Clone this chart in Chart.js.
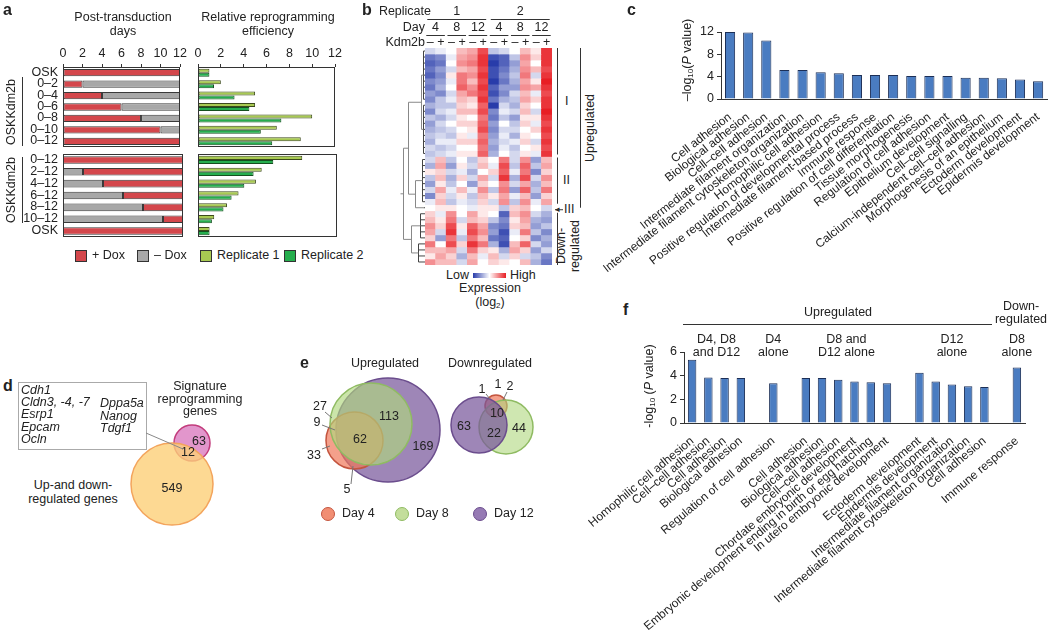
<!DOCTYPE html>
<html>
<head>
<meta charset="utf-8">
<script src="https://cdn.jsdelivr.net/npm/chart.js@4.4.0/dist/chart.umd.min.js"></script>
<style>
body { margin: 0; background: #fff; }
#fig { position: relative; width: 1050px; height: 636px; overflow: hidden; font-family: "Liberation Sans", Arial, sans-serif; color: #222; }
#fig canvas { position: absolute; }
.t { position: absolute; white-space: nowrap; font-size: 12.5px; line-height: 1.1; }
.c { transform: translate(-50%, -50%); text-align: center; }
.l { transform: translate(0, -50%); }
.r { transform: translate(-100%, -50%); text-align: right; }
.v { transform: translate(-50%, -50%) rotate(-90deg); text-align: center; }
.p { font-weight: bold; font-size: 16px; }
.i { font-style: italic; }
sub { font-size: 8px; vertical-align: -2px; }
</style>
</head>
<body>
<div id="fig"></div>
<script>
// ---- panel a ----
const rowsTop = ['OSK', '0–2', '0–4', '0–6', '0–8', '0–10', '0–12'];
const plusDoxTop = [12, 2, 4, 6, 8, 10, 12];
const minusDoxTop = [0, 10, 8, 6, 4, 2, 0];
const rowsBottom = ['0–12', '2–12', '4–12', '6–12', '8–12', '10–12', 'OSK'];
const minusDoxBottom = [0, 2, 4, 6, 8, 10, 0];
const plusDoxBottom = [12, 10, 8, 6, 4, 2, 12];
const rep1Top = [1.0, 2.0, 5.0, 5.0, 10.0, 6.9, 9.0];
const rep2Top = [1.0, 1.4, 3.2, 4.5, 7.3, 5.5, 6.5];
const rep1Bottom = [9.0, 5.5, 5.0, 3.5, 2.5, 1.4, 1.0];
const rep2Bottom = [6.5, 4.8, 4.0, 2.9, 2.2, 1.2, 1.0];
const dayTicks = [0, 2, 4, 6, 8, 10, 12];

// ---- panel b ----
const replicates = ['1', '2'];
const days = ['4', '8', '12'];
const kdm2b = ['–', '+'];
const heatCols = ['R1 D4 -', 'R1 D4 +', 'R1 D8 -', 'R1 D8 +', 'R1 D12 -', 'R1 D12 +',
                  'R2 D4 -', 'R2 D4 +', 'R2 D8 -', 'R2 D8 +', 'R2 D12 -', 'R2 D12 +'];
const heatRows = [
  [-0.2, -0.1, 0.0, 0.3, 0.4, 0.8, -0.3, -0.2, 0.0, 0.3, 0.1, 0.9],
  [-0.7, -0.6, -0.1, 0.4, 0.5, 0.9, -0.9, -0.8, -0.3, 0.5, 0.2, 0.9],
  [-0.8, -0.7, 0.0, 0.5, 0.6, 0.9, -1.0, -0.8, -0.5, 0.4, 0.0, 0.9],
  [-0.7, -0.5, -0.2, 0.3, 0.4, 0.8, -0.9, -0.7, -0.4, 0.5, 0.3, 0.8],
  [-0.8, -0.6, 0.1, 0.6, 0.5, 0.9, -0.9, -0.6, -0.3, 0.6, -0.2, 0.9],
  [-0.6, -0.5, -0.1, 0.6, 0.3, 0.8, -1.0, -0.7, -0.4, 0.4, 0.1, 1.0],
  [-0.7, -0.4, 0.0, 0.7, 0.5, 0.9, -0.8, -0.5, -0.5, 0.5, 0.4, 0.9],
  [-0.5, -0.6, -0.2, 0.4, 0.6, 0.8, -0.9, -0.6, -0.2, 0.3, -0.1, 0.8],
  [-0.6, -0.3, -0.1, 0.3, 0.2, 0.9, -0.7, -0.4, -0.3, 0.4, 0.2, 0.9],
  [-0.4, -0.3, -0.3, 0.2, 0.1, 0.7, -1.0, -0.2, -0.4, 0.2, 0.0, 0.9],
  [-0.6, -0.2, -0.1, 0.3, 0.3, 0.8, -0.6, -0.1, -0.2, 0.3, -0.2, 1.0],
  [-0.3, -0.4, -0.2, 0.1, 0.0, 0.6, -0.7, -0.3, -0.5, 0.1, 0.1, 0.9],
  [-0.5, -0.2, 0.0, 0.2, 0.2, 0.7, -0.5, 0.0, -0.3, 0.2, -0.1, 0.8],
  [-0.4, -0.3, -0.2, 0.0, 0.1, 0.8, -0.6, -0.2, -0.2, 0.0, 0.2, 0.9],
  [-0.3, -0.2, -0.3, 0.1, -0.1, 0.6, -0.5, -0.1, -0.4, 0.1, 0.0, 0.8],
  [-0.4, -0.1, -0.1, 0.2, 0.2, 0.7, -0.4, -0.2, -0.1, 0.2, -0.2, 0.9],
  [-0.2, -0.3, -0.2, 0.0, 0.0, 0.6, -0.5, -0.1, -0.3, 0.0, 0.1, 0.8],
  [-0.3, -0.2, -0.1, 0.1, 0.1, 0.7, -0.4, 0.0, -0.2, 0.1, -0.1, 0.9],
  [-0.2, 0.3, -0.3, 0.0, -0.3, 0.2, 0.0, 0.6, -0.2, 0.5, -0.5, 0.3],
  [-0.4, 0.4, -0.5, 0.1, -0.2, 0.3, -0.1, 0.8, -0.3, 0.7, -0.3, 0.4],
  [0.1, 0.2, -0.2, -0.1, -0.4, 0.0, 0.2, 0.7, -0.1, 0.6, -0.6, 0.2],
  [-0.3, 0.3, -0.4, 0.2, -0.2, 0.4, -0.2, 0.9, -0.4, 0.8, -0.2, 0.5],
  [-0.5, 0.1, -0.3, 0.0, -0.5, 0.2, 0.0, 0.5, -0.2, 0.4, -0.4, 0.3],
  [-0.2, 0.4, -0.1, 0.3, -0.1, 0.5, -0.3, 0.6, -0.5, 0.7, -0.3, 0.6],
  [-0.6, 0.2, -0.2, 0.1, -0.3, 0.3, 0.1, 0.4, -0.1, 0.3, -0.5, 0.2],
  [-0.1, 0.3, -0.3, -0.1, -0.2, 0.2, -0.2, 0.5, -0.3, 0.5, -0.1, 0.4],
  [0.0, 0.1, 0.1, 0.0, -0.1, 0.1, 0.1, -0.3, 0.2, 0.3, 0.0, -0.2],
  [0.2, -0.1, 0.5, 0.0, 0.4, 0.1, 0.0, -0.8, 0.3, 0.5, -0.2, -0.4],
  [0.3, 0.1, 0.6, -0.2, 0.3, 0.2, -0.3, -0.6, 0.1, 0.4, -0.4, -0.5],
  [0.5, 0.2, 0.8, 0.1, 0.7, 0.4, -0.6, -0.7, 0.2, 0.3, -0.5, -0.3],
  [0.4, -0.2, 0.9, -0.1, 0.8, 0.5, -0.5, -0.9, -0.1, 0.6, -0.3, -0.6],
  [0.2, -0.5, 0.6, -0.3, 0.6, 0.3, -0.7, -0.8, 0.0, 0.2, -0.6, -0.4],
  [0.6, 0.0, 0.8, 0.2, 0.9, 0.6, -0.4, -0.9, 0.3, 0.7, -0.2, -0.5],
  [0.3, 0.3, 0.4, -0.2, 0.6, 0.2, 0.1, -0.4, 0.4, 0.2, -0.5, -0.2],
  [0.1, 0.4, 0.2, -0.4, 0.3, -0.1, 0.3, -0.2, 0.2, -0.2, -0.3, -0.6],
  [0.5, 0.3, 0.3, -0.2, 0.4, 0.0, 0.2, 0.1, 0.0, 0.3, -0.4, -0.7]
];
// row ranges of the clusters
const clusterI = [0, 17], clusterII = [18, 25], clusterIII = [26, 26], clusterDown = [27, 35];

// ---- panel c ----
const termsC = ['Cell adhesion', 'Biological adhesion', 'Cell–cell adhesion', 'Intermediate filament organization',
  'Intermediate filament cytoskeleton organization', 'Homophilic cell adhesion',
  'Positive regulation of developmental process', 'Intermediate filament-based process', 'Immune response',
  'Positive regulation of cell differentiation', 'Tissue morphogenesis', 'Regulation of cell adhesion',
  'Epithelium development', 'Cell–cell signalling', 'Calcium-independent cell–cell adhesion',
  'Morphogenesis of an epithelium', 'Ectoderm development', 'Epidermis development'];
const pvalC = [12.0, 11.9, 10.5, 5.2, 5.2, 4.8, 4.6, 4.3, 4.3, 4.3, 4.1, 4.1, 4.1, 3.8, 3.8, 3.7, 3.5, 3.2];
const cTicks = [0, 2, 4, 6, 8, 10, 12];

// ---- panel d ----
const vennDCounts = ['549', '12', '63'];
// ---- panel e ----
const vennUpCounts = ['33', '9', '27', '5', '62', '113', '169'];
const vennDownCounts = ['63', '1', '1', '2', '10', '22', '44'];
const dayNames = ['Day 4', 'Day 8', 'Day 12'];

// ---- panel f ----
const termsF = ['Homophilic cell adhesion', 'Cell–cell adhesion', 'Cell adhesion', 'Biological adhesion', '',
  'Regulation of cell adhesion', '',
  'Cell adhesion', 'Biological adhesion', 'Cell–cell adhesion', 'Chordate embryonic development',
  'Embryonic development ending in birth or egg hatching', 'In utero embryonic development', '',
  'Ectoderm development', 'Epidermis development', 'Intermediate filament organization',
  'Intermediate filament cytoskeleton organization', 'Cell adhesion', '',
  'Immune response'];
const pvalF = [5.35, 3.85, 3.8, 3.8, null, 3.35, null, 3.8, 3.8, 3.65, 3.5, 3.45, 3.35, null,
  4.25, 3.5, 3.25, 3.1, 3.05, null, 4.7];
const fTicks = [0, 2, 4, 6];
const fGroups = ['D4, D8<br>and D12', 'D4<br>alone', 'D8 and<br>D12 alone', 'D12<br>alone', 'D8<br>alone'];
const fGroupSpan = [[0, 3], [5, 5], [7, 12], [14, 18], [20, 20]];

// ---- colours ----
const RED = '#d4474c', GREY = '#a8a8a8', LGREEN = '#a8ca52', GREEN = '#25ae4e';
const BLUE = '#4a7cc1', NAVY = '#1c2f57';

Chart.defaults.font.family = '"Liberation Sans", Arial, sans-serif';
Chart.defaults.font.size = 12;
Chart.defaults.color = '#222';
Chart.defaults.animation = false;
Chart.defaults.responsive = false;
Chart.defaults.maintainAspectRatio = false;
Chart.defaults.devicePixelRatio = 1;
Chart.defaults.events = [];
Chart.defaults.plugins.legend.display = false;
Chart.defaults.plugins.tooltip.enabled = false;

const framePlugin = {
  id: 'frame',
  defaults: { on: false },
  afterDatasetsDraw(chart, args, opts) {
    if (!opts.on) return;
    const a = chart.chartArea, ctx = chart.ctx;
    ctx.save();
    ctx.strokeStyle = '#333';
    ctx.lineWidth = 1;
    ctx.strokeRect(Math.round(a.left) + 0.5, Math.round(a.top) + 0.5, Math.round(a.width) - 1, Math.round(a.height) - 1);
    ctx.restore();
  }
};
Chart.register(framePlugin);

const fig = document.getElementById('fig');
const svg = document.createElementNS('http://www.w3.org/2000/svg', 'svg');
svg.setAttribute('width', 1050);
svg.setAttribute('height', 636);
svg.style.cssText = 'position:absolute;left:0;top:0;z-index:2;pointer-events:none';

function canvasAt(left, top, w, h) {
  const c = document.createElement('canvas');
  c.width = w; c.height = h;
  c.style.left = left + 'px'; c.style.top = top + 'px';
  c.style.width = w + 'px'; c.style.height = h + 'px';
  fig.appendChild(c);
  return c;
}

function txt(html, x, y, cls, style) {
  const d = document.createElement('div');
  d.className = 't ' + (cls || 'c');
  d.style.left = x + 'px';
  d.style.top = y + 'px';
  if (style) d.style.cssText += style;
  d.innerHTML = html;
  fig.appendChild(d);
  return d;
}

function line(x1, y1, x2, y2, color, w) {
  const l = document.createElementNS('http://www.w3.org/2000/svg', 'line');
  l.setAttribute('x1', x1); l.setAttribute('y1', y1);
  l.setAttribute('x2', x2); l.setAttribute('y2', y2);
  l.setAttribute('stroke', color || '#333');
  l.setAttribute('stroke-width', w || 1);
  svg.appendChild(l);
}

// ================= panel a =================
const topAxisFit = s => { s.height = s.options.display ? 31 : 0; };

function topAxis(show) {
  return {
    min: 0, max: 12, position: 'top', display: show,
    afterBuildTicks: s => { s.ticks = dayTicks.map(v => ({ value: v })); },
    ticks: { font: { size: 12.5 }, padding: 3 },
    grid: { drawOnChartArea: false, tickLength: 3, color: '#333' },
    border: { display: false },
    afterFit: topAxisFit
  };
}

function daysChart(left, top, h, labels, sets, show, pad) {
  const ch = new Chart(canvasAt(left, top, 190, h), {
    type: 'bar',
    data: {
      labels: labels,
      datasets: sets.map(s => ({
        data: s.data, backgroundColor: s.color, borderColor: '#3a3a3a',
        borderWidth: c => (c.raw ? 1 : 0), borderSkipped: false,
        barPercentage: 0.64, categoryPercentage: 1
      }))
    },
    options: {
      indexAxis: 'y',
      layout: { padding: pad },
      plugins: { frame: { on: true } },
      scales: {
        x: Object.assign(topAxis(show), { stacked: true }),
        y: { stacked: true, display: false }
      }
    }
  });
  // row labels placed from the category scale
  labels.forEach((lab, i) => txt(lab, left + ch.chartArea.left - 5, top + ch.scales.y.getPixelForValue(i), 'r'));
  return ch;
}

function effChart(left, top, h, labels, r1, r2, show, pad) {
  return new Chart(canvasAt(left, top, 155, h), {
    type: 'bar',
    data: {
      labels: labels,
      datasets: [
        { data: r1, backgroundColor: LGREEN, borderColor: '#3d4a1c', borderWidth: 1, borderSkipped: false, barPercentage: 1, categoryPercentage: 0.7 },
        { data: r2, backgroundColor: GREEN, borderColor: '#14501f', borderWidth: 1, borderSkipped: false, barPercentage: 1, categoryPercentage: 0.7 }
      ]
    },
    options: {
      indexAxis: 'y',
      layout: { padding: pad },
      plugins: { frame: { on: true } },
      scales: { x: topAxis(show), y: { display: false } }
    }
  });
}

daysChart(0, 36, 112, rowsTop, [{ data: plusDoxTop, color: RED }, { data: minusDoxTop, color: GREY }],
  true, { left: 63, right: 7, bottom: 1 });
daysChart(0, 150, 90, rowsBottom, [{ data: minusDoxBottom, color: GREY }, { data: plusDoxBottom, color: RED }],
  false, { left: 63, top: 4, right: 7, bottom: 3 });
effChart(190, 36, 112, rowsTop, rep1Top, rep2Top, true, { left: 8, right: 8, bottom: 1 });
effChart(190, 150, 90, rowsBottom, rep1Bottom, rep2Bottom, false, { left: 8, right: 8, top: 4, bottom: 3 });

txt('a', 3, 10, 'l p');
txt('Post-transduction<br>days', 123, 25);
txt('Relative reprogramming<br>efficiency', 268, 25);
txt('OSKKdm2b', 12, 112, 'v');
txt('OSKKdm2b', 12, 190, 'v');
line(22.5, 77, 22.5, 146);
line(22.5, 157, 22.5, 223);

const legA = [['+ Dox', RED, 75], ['– Dox', GREY, 137], ['Replicate 1', LGREEN, 200], ['Replicate 2', GREEN, 284]];
legA.forEach(([name, col, x]) => {
  const sq = document.createElement('div');
  sq.style.cssText = `position:absolute;left:${x}px;top:250px;width:10px;height:10px;background:${col};border:1px solid #333`;
  fig.appendChild(sq);
  txt(name, x + 17, 256, 'l');
});

// ================= panel b =================
function heatColor(v) {
  const t = Math.min(1, Math.abs(v));
  const c = v < 0 ? [40, 60, 170] : [232, 30, 36];
  const m = k => Math.round(255 + (c[k] - 255) * t);
  return `rgb(${m(0)},${m(1)},${m(2)})`;
}

const dendroTree = { h: 21, kids: [
  { h: 16, kids: [
    { h: 3, kids: [{ h: 1, rows: [0, 8] }, { h: 1, rows: [9, 17] }] },
    { h: 9, kids: [{ h: 2, rows: [18, 25] }, { h: 1, rows: [26, 26] }] }
  ] },
  { h: 13, kids: [{ h: 4, rows: [27, 31] }, { h: 6, rows: [32, 35] }] }
] };

const dendroPlugin = {
  id: 'dendro',
  afterDatasetsDraw(chart) {
    const ctx = chart.ctx, ys = chart.scales.y, left = chart.chartArea.left;
    const yc = r => ys.getPixelForValue(r + 0.5);
    ctx.save();
    ctx.lineWidth = 1;
    function draw(node) {
      const x = Math.round(left - node.h) - 0.5;
      if (node.rows) {
        ctx.strokeStyle = '#444';
        ctx.beginPath();
        ctx.moveTo(x, yc(node.rows[0])); ctx.lineTo(x, yc(node.rows[1]));
        for (let r = node.rows[0]; r <= node.rows[1]; r++) { ctx.moveTo(x, yc(r)); ctx.lineTo(left, yc(r)); }
        ctx.stroke();
        return { x: x, y: (yc(node.rows[0]) + yc(node.rows[1])) / 2 };
      }
      const ch = node.kids.map(draw);
      ctx.strokeStyle = '#888';
      ctx.beginPath();
      ctx.moveTo(x, ch[0].y); ctx.lineTo(x, ch[ch.length - 1].y);
      ch.forEach(c => { ctx.moveTo(x, c.y); ctx.lineTo(c.x, c.y); });
      ctx.stroke();
      return { x: x, y: (ch[0].y + ch[ch.length - 1].y) / 2 };
    }
    const root = draw(dendroTree);
    ctx.strokeStyle = '#888';
    ctx.beginPath(); ctx.moveTo(root.x, root.y); ctx.lineTo(root.x - 3, root.y); ctx.stroke();
    ctx.restore();
  }
};

const hmLeft = 395, hmTop = 48;
const hm = new Chart(canvasAt(hmLeft, hmTop, 157, 217), {
  type: 'bar',
  data: {
    labels: heatCols,
    datasets: heatRows.map(row => ({
      data: row.map(() => 1), backgroundColor: row.map(heatColor), borderWidth: 0,
      barPercentage: 1, categoryPercentage: 1
    }))
  },
  options: {
    layout: { padding: { left: 30 } },
    scales: {
      x: { stacked: true, display: false },
      y: { stacked: true, display: false, reverse: true, min: 0, max: heatRows.length }
    }
  },
  plugins: [dendroPlugin]
});

const colX = i => hmLeft + hm.scales.x.getPixelForValue(i);
const rowY = r => hmTop + hm.scales.y.getPixelForValue(r);
txt('b', 362, 10, 'l p');
txt('Replicate', 431, 12, 'r');
txt('Day', 425, 28, 'r');
txt('Kdm2b', 425, 43, 'r');
replicates.forEach((rep, ri) => {
  const a = colX(ri * 6), b = colX(ri * 6 + 5);
  txt(rep, (a + b) / 2, 12);
  line(a - 3, 19.5, b + 3, 19.5);
  days.forEach((d, di) => {
    const c0 = colX(ri * 6 + di * 2), c1 = colX(ri * 6 + di * 2 + 1);
    txt(d, (c0 + c1) / 2, 28);
    line(c0 - 4, 35.5, c1 + 4, 35.5);
    kdm2b.forEach((s, si) => txt(s, colX(ri * 6 + di * 2 + si), 43));
  });
});
// cluster brackets
const bx = 557.5;
line(bx, rowY(clusterI[0]), bx, rowY(clusterI[1] + 1) - 2);
line(bx, rowY(clusterII[0]) + 1, bx, rowY(clusterII[1] + 1) - 1);
line(bx, rowY(clusterDown[0]) + 2, bx, rowY(clusterDown[1] + 1));
txt('I', 565, Math.round((rowY(clusterI[0]) + rowY(clusterI[1] + 1)) / 2), 'l');
txt('II', 563, Math.round((rowY(clusterII[0]) + rowY(clusterII[1] + 1)) / 2), 'l');
const y3 = (rowY(clusterIII[0]) + rowY(clusterIII[1] + 1)) / 2 + 2;
line(555, y3, 563, y3);
txt('◂', 557, y3, 'c', 'font-size:9px');
txt('III', 564, y3, 'l');
line(580.5, rowY(clusterI[0]), 580.5, rowY(clusterII[1] + 1) + 3);
txt('Upregulated', 591, 128, 'v');
txt('Down-<br>regulated', 569, 246, 'v');
// colour key
txt('Low', 469, 276, 'r');
const grad = document.createElement('div');
grad.style.cssText = 'position:absolute;left:473px;top:273px;width:33px;height:5px;background:linear-gradient(to right,rgb(40,60,170),#fff,rgb(232,30,36))';
fig.appendChild(grad);
txt('High', 510, 276, 'l');
txt('Expression', 490, 289);
txt('(log<sub>2</sub>)', 490, 303);

// ================= panel c =================
new Chart(canvasAt(580, 0, 470, 290), {
  type: 'bar',
  data: {
    labels: termsC,
    datasets: [{ data: pvalC, backgroundColor: BLUE, borderColor: NAVY, borderWidth: 1, barPercentage: 0.56, categoryPercentage: 1 }]
  },
  options: {
    layout: { padding: { top: 32, right: 1 } },
    scales: {
      x: {
        grid: { display: false }, border: { color: '#333' },
        ticks: { autoSkip: false, minRotation: 38, maxRotation: 38, font: { size: 12 }, padding: 3, color: '#222' },
        afterFit: s => { s.height = 191; }
      },
      y: {
        min: 0, max: 12,
        afterBuildTicks: s => { s.ticks = cTicks.map(v => ({ value: v })); },
        ticks: { font: { size: 12.5 }, padding: 3 },
        grid: { drawOnChartArea: false, tickLength: 4, color: '#333' },
        border: { color: '#333' },
        afterFit: s => { s.width = 141; }
      }
    }
  }
});
txt('c', 627, 10, 'l p');
txt('–log<sub>10</sub>(<i>P</i> value)', 688, 60, 'v');

// ================= panel d =================
const vennDLayout = { left: 120, top: 390, w: 110, h: 150,
  x: [52, 72], y: [94, 53], r: [41, 18],
  fill: ['rgba(253,208,120,0.8)', 'rgba(215,110,185,0.72)'], stroke: ['#f3a45c', '#c23c7c'] };

function vennChart(L) {
  const cv = canvasAt(L.left, L.top, L.w, L.h);
  return new Chart(cv, {
    type: 'bubble',
    data: {
      datasets: L.x.map((x, i) => ({
        data: [{ x: x, y: L.y[i], r: L.r[i] }],
        backgroundColor: L.fill[i], borderColor: L.stroke[i], borderWidth: 1.5, clip: false
      }))
    },
    options: {
      layout: { autoPadding: false, padding: 0 },
      scales: {
        x: { display: false, min: 0, max: L.w },
        y: { display: false, min: 0, max: L.h, reverse: true }
      }
    }
  });
}
vennChart(vennDLayout);
txt('d', 3, 386, 'l p');
const box = document.createElement('div');
box.style.cssText = 'position:absolute;left:18px;top:382px;width:127px;height:66px;border:1px solid #aaa';
fig.appendChild(box);
['Cdh1', 'Cldn3, -4, -7', 'Esrp1', 'Epcam', 'Ocln'].forEach((g, i) => txt(g, 21, 391 + i * 12.2, 'l i'));
['Dppa5a', 'Nanog', 'Tdgf1'].forEach((g, i) => txt(g, 100, 404 + i * 12.5, 'l i'));
line(146, 433, 183, 449, '#888');
txt('Signature<br>reprogramming<br>genes', 200, 399, 'c', 'line-height:1;');
txt('Up-and down-<br>regulated genes', 73, 492, 'c', 'line-height:1.15;');
txt(vennDCounts[0], 172, 489);
txt(vennDCounts[1], 188, 453);
txt(vennDCounts[2], 199, 442);

// ================= panel e =================
const vennUpLayout = { left: 300, top: 360, w: 150, h: 140,
  x: [71, 54.5, 88], y: [64, 80.5, 70], r: [41, 28.5, 52],
  fill: ['rgba(175,215,125,0.65)', 'rgba(240,120,90,0.7)', 'rgba(120,88,155,0.72)'],
  stroke: ['#8fbb62', '#c4553f', '#6b4d8d'] };
const vennDownLayout = { left: 440, top: 360, w: 100, h: 110,
  x: [39, 66, 56], y: [65, 67, 46], r: [28, 27, 11],
  fill: ['rgba(120,88,155,0.72)', 'rgba(175,215,125,0.6)', 'rgba(240,120,90,0.7)'],
  stroke: ['#6b4d8d', '#8fbb62', '#c4553f'] };
vennChart(vennUpLayout);
vennChart(vennDownLayout);
txt('e', 300, 363, 'l p');
txt('Upregulated', 385, 364);
txt('Downregulated', 490, 364);
const upPos = [[314, 456], [317, 423], [320, 407], [347, 490], [360, 440], [389, 417], [423, 447]];
vennUpCounts.forEach((n, i) => txt(n, upPos[i][0], upPos[i][1]));
line(322, 449, 330, 446, '#777');
line(322, 425, 335, 430, '#777');
line(325, 412, 332, 418, '#777');
line(351, 484, 353, 466, '#777');
const downPos = [[464, 427], [482, 390], [498, 385], [510, 387], [497, 414], [494, 434], [519, 429]];
vennDownCounts.forEach((n, i) => txt(n, downPos[i][0], downPos[i][1]));
line(486, 394, 490, 399, '#777');
line(507, 392, 503, 400, '#777');
const legE = [['rgba(240,130,100,0.9)', '#c4553f', 328], ['rgba(195,222,155,1)', '#8fbb62', 402], ['rgba(150,122,180,1)', '#6b4d8d', 480]];
legE.forEach(([f, s, x], i) => {
  const c = document.createElement('div');
  c.style.cssText = `position:absolute;left:${x - 7}px;top:${507}px;width:12px;height:12px;border-radius:50%;background:${f};border:1.5px solid ${s}`;
  fig.appendChild(c);
  txt(dayNames[i], x + 14, 514, 'l');
});

// ================= panel f =================
const fChart = new Chart(canvasAt(575, 330, 475, 306), {
  type: 'bar',
  data: {
    labels: termsF,
    datasets: [{ data: pvalF, backgroundColor: BLUE, borderColor: NAVY, borderWidth: 1, barPercentage: 0.52, categoryPercentage: 1 }]
  },
  options: {
    layout: { padding: { top: 22, right: 25 } },
    scales: {
      x: {
        grid: { display: false }, border: { color: '#333' },
        ticks: { autoSkip: false, minRotation: 40, maxRotation: 40, font: { size: 12 }, padding: 3, color: '#222' },
        afterFit: s => { s.height = 213; }
      },
      y: {
        min: 0, max: 6,
        afterBuildTicks: s => { s.ticks = fTicks.map(v => ({ value: v })); },
        ticks: { font: { size: 12.5 }, padding: 3 },
        grid: { drawOnChartArea: false, tickLength: 4, color: '#333' },
        border: { color: '#333' },
        afterFit: s => { s.width = 109; }
      }
    }
  }
});
txt('f', 623, 310, 'l p');
txt('-log<sub>10</sub> (<i>P</i> value)', 650, 386, 'v');
fGroups.forEach((g, i) => {
  const [a, b] = fGroupSpan[i];
  const cx = 575 + (fChart.scales.x.getPixelForValue(a) + fChart.scales.x.getPixelForValue(b)) / 2;
  txt(g, cx, 346, 'c', 'line-height:1.05;');
});
txt('Upregulated', 838, 313);
line(683, 324.5, 992, 324.5);
txt('Down-<br>regulated', 1021, 313, 'c', 'line-height:1.05;');

fig.appendChild(svg);
</script>
</body>
</html>
